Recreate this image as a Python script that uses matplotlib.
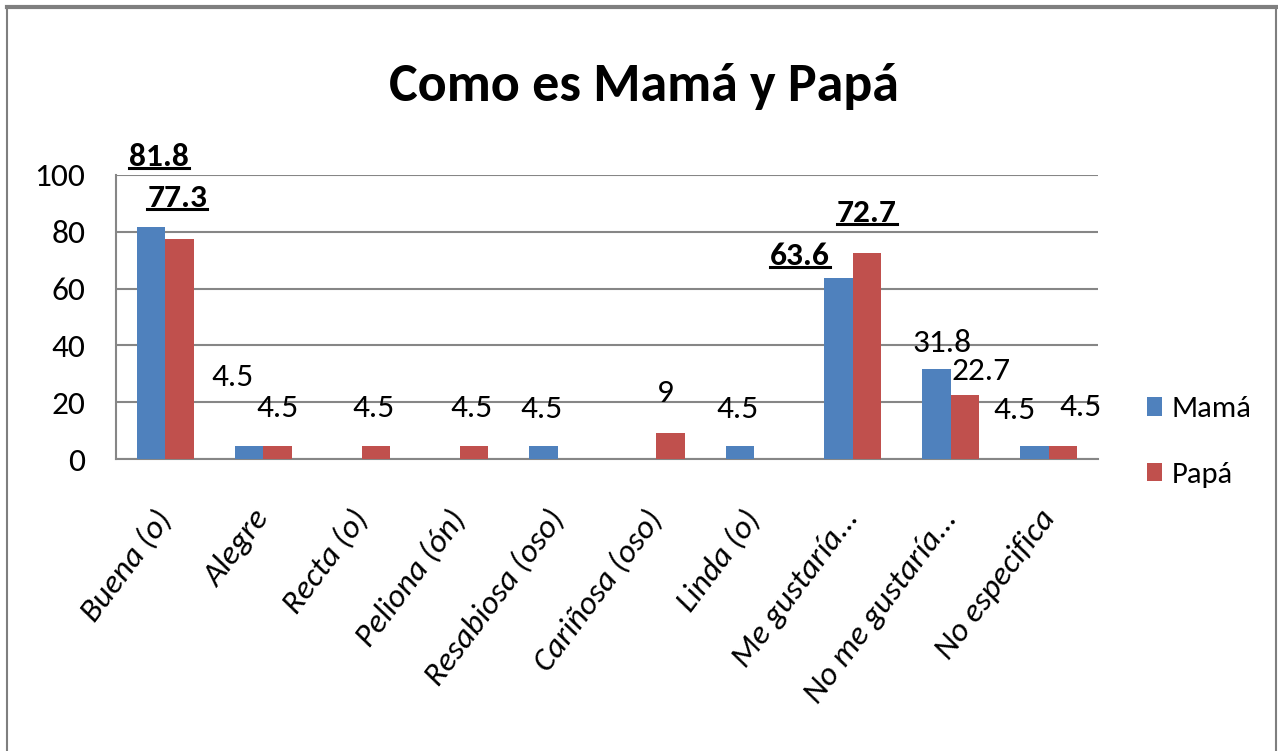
import matplotlib
matplotlib.use("Agg")
import matplotlib.pyplot as plt
import numpy as np
from matplotlib.lines import Line2D

plt.rcParams['font.family'] = ['Carlito', 'Liberation Sans', 'DejaVu Sans']

categorias = ['Buena (o)', 'Alegre', 'Recta (o)', 'Peliona (ón)', 'Resabiosa (oso)',
              'Cariñosa (oso)', 'Linda (o)', 'Me gustaría...', 'No me gustaría...',
              'No especifica']
mama = [81.8, 4.5, 0, 0, 4.5, 0, 4.5, 63.6, 31.8, 4.5]
papa = [77.3, 4.5, 4.5, 4.5, 0, 9, 0, 72.7, 22.7, 4.5]
destacados = [81.8, 77.3, 63.6, 72.7]

# label offsets (pixels) from the top of each bar, as Excel left them
off_mama = [(8, 70), (-17, 69), None, None, (-2, 37), None, (-3, 37), (-38, 22), (6, 26), (-20, 36)]
off_papa = [(-2, 41), (0, 38), (-2, 38), (-2, 38), None, (-5, 40), None, (0, 40), (16, 24), (17, 39)]

azul = '#4F81BD'
rojo = '#C0504D'
gris = '#868686'

fig = plt.figure(figsize=(12.78, 7.51), dpi=100)
ax = fig.add_axes([116 / 1278, 1 - 459 / 751, (1098 - 116) / 1278, (459 - 175) / 751])

x = np.arange(len(categorias))
w = 0.29
b1 = ax.bar(x - w / 2, mama, w, color=azul, label='Mamá', zorder=3)
b2 = ax.bar(x + w / 2, papa, w, color=rojo, label='Papá', zorder=3)

ax.set_xlim(-0.5, len(categorias) - 0.5)
ax.set_ylim(0, 100)
ax.set_yticks(range(0, 101, 20))
ax.yaxis.grid(True, color=gris, lw=1.5, zorder=0)
ax.set_axisbelow(True)
for s in ['top', 'right']:
    ax.spines[s].set_visible(False)
for s in ['left', 'bottom']:
    ax.spines[s].set_color(gris)
    ax.spines[s].set_linewidth(1.5)
ax.tick_params(axis='y', length=0, pad=22, labelsize=24)
ax.tick_params(axis='x', length=0, pad=39)
ax.set_xticks(x)
ax.set_xticklabels(categorias, rotation=53, ha='right', va='center',
                   rotation_mode='anchor', fontsize=24, style='italic')

textos_sub = []
for barras, vals, offs in [(b1, mama, off_mama), (b2, papa, off_papa)]:
    for rect, v, o in zip(barras, vals, offs):
        if o is None or v == 0:
            continue
        cx = rect.get_x() + rect.get_width() / 2
        negrita = v in destacados
        t = ax.annotate(f'{v:g}', xy=(cx, v), xytext=o, textcoords='offset pixels',
                        ha='center', va='center', fontsize=24,
                        fontweight='bold' if negrita else 'normal', zorder=5)
        if negrita:
            textos_sub.append(t)

fig.text(0.504, 1 - 86 / 751, 'Como es Mamá y Papá', ha='center', va='center',
         fontsize=39, fontweight='bold')

leg = fig.legend(handles=[b1, b2], labels=['Mamá', 'Papá'], loc='center left',
                 bbox_to_anchor=(1147 / 1278, 1 - 442 / 751), frameon=False,
                 borderpad=0, borderaxespad=0,
                 fontsize=22, handlelength=0.5, handleheight=0.55, handletextpad=0.3,
                 labelspacing=1.3)

# outer chart frame
fig.add_artist(Line2D([7 / 1278, 1276 / 1278], [1 - 7 / 751, 1 - 7 / 751],
                      transform=fig.transFigure, color='#7f7f7f', lw=3))
for xf in [7 / 1278, 1276 / 1278]:
    fig.add_artist(Line2D([xf, xf], [0, 1 - 7 / 751], transform=fig.transFigure,
                          color='#7f7f7f', lw=1.5))

# underline the highlighted labels
fig.canvas.draw()
r = fig.canvas.get_renderer()
inv = fig.transFigure.inverted()
for t in textos_sub:
    bb = t.get_window_extent(r)
    y = bb.y0 + 3
    (x0, yy), (x1, _) = inv.transform([(bb.x0, y), (bb.x1, y)])
    fig.add_artist(Line2D([x0, x1], [yy, yy], transform=fig.transFigure,
                          color='black', lw=2.2))

fig.savefig('out.png', dpi=100)
